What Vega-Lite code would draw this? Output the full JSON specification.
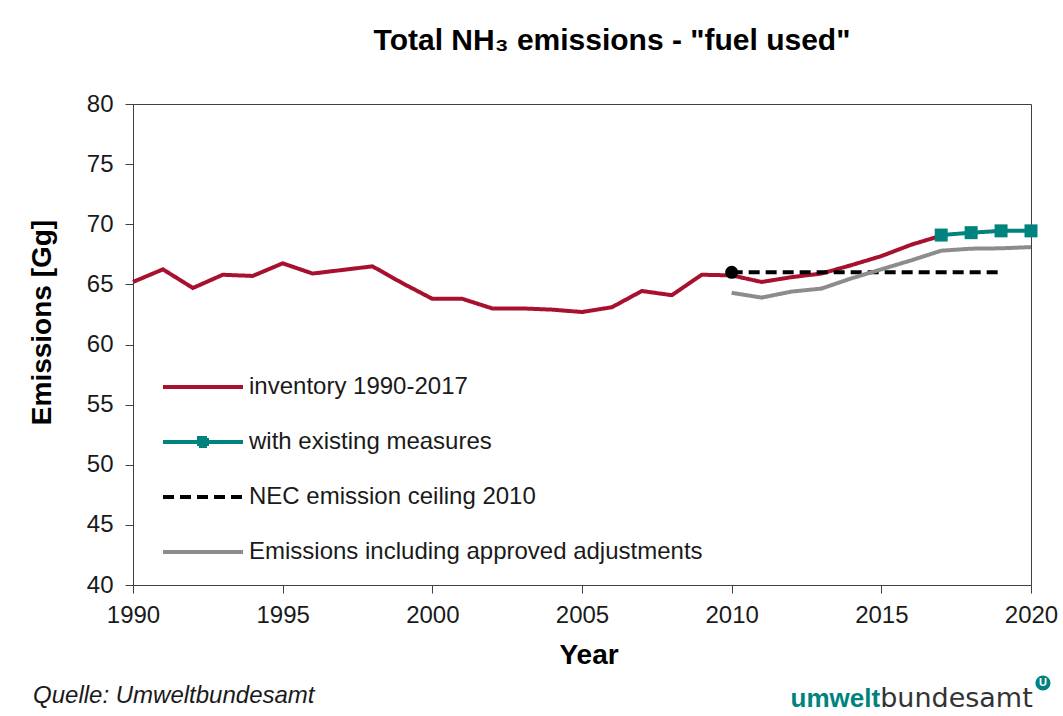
{
  "$schema": "https://vega.github.io/schema/vega-lite/v6.json",
  "width": 898,
  "height": 481,
  "autosize": {"type": "none"},
  "padding": {"left": 133, "top": 104, "right": 32, "bottom": 131},
  "background": "white",
  "title": {
    "text": "Total NH₃ emissions - \"fuel used\"",
    "font": "Liberation Sans",
    "fontSize": 30,
    "fontWeight": "bold",
    "color": "#000000",
    "anchor": "middle",
    "frame": "group",
    "dx": 30,
    "offset": 36
  },
  "datasets": {
    "main": [
      {"year": 1990, "value": 65.2, "series": "inventory 1990-2017"},
      {"year": 1991, "value": 66.25, "series": "inventory 1990-2017"},
      {"year": 1992, "value": 64.7, "series": "inventory 1990-2017"},
      {"year": 1993, "value": 65.8, "series": "inventory 1990-2017"},
      {"year": 1994, "value": 65.7, "series": "inventory 1990-2017"},
      {"year": 1995, "value": 66.75, "series": "inventory 1990-2017"},
      {"year": 1996, "value": 65.9, "series": "inventory 1990-2017"},
      {"year": 1997, "value": 66.2, "series": "inventory 1990-2017"},
      {"year": 1998, "value": 66.5, "series": "inventory 1990-2017"},
      {"year": 1999, "value": 65.1, "series": "inventory 1990-2017"},
      {"year": 2000, "value": 63.8, "series": "inventory 1990-2017"},
      {"year": 2001, "value": 63.8, "series": "inventory 1990-2017"},
      {"year": 2002, "value": 63.0, "series": "inventory 1990-2017"},
      {"year": 2003, "value": 63.0, "series": "inventory 1990-2017"},
      {"year": 2004, "value": 62.9, "series": "inventory 1990-2017"},
      {"year": 2005, "value": 62.7, "series": "inventory 1990-2017"},
      {"year": 2006, "value": 63.1, "series": "inventory 1990-2017"},
      {"year": 2007, "value": 64.45, "series": "inventory 1990-2017"},
      {"year": 2008, "value": 64.1, "series": "inventory 1990-2017"},
      {"year": 2009, "value": 65.8, "series": "inventory 1990-2017"},
      {"year": 2010, "value": 65.75, "series": "inventory 1990-2017"},
      {"year": 2011, "value": 65.2, "series": "inventory 1990-2017"},
      {"year": 2012, "value": 65.6, "series": "inventory 1990-2017"},
      {"year": 2013, "value": 65.9, "series": "inventory 1990-2017"},
      {"year": 2014, "value": 66.6, "series": "inventory 1990-2017"},
      {"year": 2015, "value": 67.35, "series": "inventory 1990-2017"},
      {"year": 2016, "value": 68.3, "series": "inventory 1990-2017"},
      {"year": 2017, "value": 69.05, "series": "inventory 1990-2017"},
      {"year": 2017, "value": 69.1, "series": "with existing measures"},
      {"year": 2018, "value": 69.3, "series": "with existing measures"},
      {"year": 2019, "value": 69.45, "series": "with existing measures"},
      {"year": 2020, "value": 69.45, "series": "with existing measures"},
      {"year": 2010, "value": 66.0, "series": "NEC emission ceiling 2010"},
      {"year": 2019, "value": 66.0, "series": "NEC emission ceiling 2010"},
      {"year": 2010, "value": 64.3, "series": "Emissions including approved adjustments"},
      {"year": 2011, "value": 63.9, "series": "Emissions including approved adjustments"},
      {"year": 2012, "value": 64.4, "series": "Emissions including approved adjustments"},
      {"year": 2013, "value": 64.65, "series": "Emissions including approved adjustments"},
      {"year": 2014, "value": 65.5, "series": "Emissions including approved adjustments"},
      {"year": 2015, "value": 66.25, "series": "Emissions including approved adjustments"},
      {"year": 2016, "value": 67.0, "series": "Emissions including approved adjustments"},
      {"year": 2017, "value": 67.8, "series": "Emissions including approved adjustments"},
      {"year": 2018, "value": 67.97, "series": "Emissions including approved adjustments"},
      {"year": 2019, "value": 68.0, "series": "Emissions including approved adjustments"},
      {"year": 2020, "value": 68.1, "series": "Emissions including approved adjustments"}
    ]
  },
  "layer": [
    {
      "data": {"name": "main"},
      "mark": {"type": "line", "strokeWidth": 4},
      "encoding": {
        "x": {
          "field": "year",
          "type": "quantitative",
          "scale": {"domain": [1990, 2020], "nice": false, "zero": false},
          "axis": {
            "values": [1990, 1995, 2000, 2005, 2010, 2015, 2020],
            "format": "d",
            "title": "Year",
            "titleFontSize": 28,
            "titleFontWeight": "bold",
            "titleX": 455.5,
            "titleY": 70,
            "titleBaseline": "middle",
            "labelPadding": 10,
            "tickSize": 8,
            "labelFlush": false,
            "labelOverlap": false
          }
        },
        "y": {
          "field": "value",
          "type": "quantitative",
          "scale": {"domain": [40, 80], "nice": false, "zero": false},
          "axis": {
            "values": [40, 45, 50, 55, 60, 65, 70, 75, 80],
            "title": "Emissions [Gg]",
            "titleFontSize": 28,
            "titleFontWeight": "bold",
            "titleX": -91,
            "titleY": 218,
            "titleAngle": -90,
            "titleAlign": "center",
            "titleBaseline": "middle",
            "labelPadding": 12,
            "tickSize": 8,
            "labelOverlap": false
          }
        },
        "color": {
          "field": "series",
          "type": "nominal",
          "scale": {
            "domain": ["inventory 1990-2017", "with existing measures", "NEC emission ceiling 2010", "Emissions including approved adjustments"],
            "range": ["#a8112e", "#00837e", "#000000", "#8c8c8c"]
          },
          "legend": {
            "title": null,
            "orient": "none",
            "legendX": 28,
            "legendY": 271,
            "direction": "vertical",
            "symbolType": "stroke",
            "symbolSize": 6400,
            "symbolStrokeWidth": 4,
            "labelFontSize": 24,
            "labelFont": "Liberation Sans",
            "labelColor": "#1a1a1a",
            "labelOffset": 4,
            "labelLimit": 700,
            "rowPadding": 31,
            "clipHeight": 24,
            "padding": 0,
            "encode": {
              "symbols": {
                "update": {
                  "shape": {"signal": "datum.value === 'with existing measures' ? 'M-1,0H1M-0.1,-0.1H0.1V0.1H-0.1Z' : 'stroke'"},
                  "fill": {"value": "#00837e"}
                }
              }
            }
          }
        },
        "strokeDash": {
          "field": "series",
          "type": "nominal",
          "scale": {
            "domain": ["inventory 1990-2017", "with existing measures", "NEC emission ceiling 2010", "Emissions including approved adjustments"],
            "range": [[1, 0], [1, 0], [11, 6], [1, 0]]
          },
          "legend": {
            "title": null,
            "orient": "none",
            "legendX": 28,
            "legendY": 271,
            "direction": "vertical",
            "symbolType": "stroke",
            "symbolSize": 6400,
            "symbolStrokeWidth": 4,
            "labelFontSize": 24,
            "labelFont": "Liberation Sans",
            "labelColor": "#1a1a1a",
            "labelOffset": 4,
            "labelLimit": 700,
            "rowPadding": 31,
            "clipHeight": 24,
            "padding": 0,
            "encode": {
              "symbols": {
                "update": {
                  "shape": {"signal": "datum.value === 'with existing measures' ? 'M-1,0H1M-0.1,-0.1H0.1V0.1H-0.1Z' : 'stroke'"},
                  "fill": {"value": "#00837e"}
                }
              }
            }
          }
        }
      }
    },
    {
      "data": {"name": "main"},
      "transform": [{"filter": "datum.series === 'with existing measures'"}],
      "mark": {"type": "point", "shape": "square", "filled": true, "opacity": 1, "size": 169, "color": "#00837e"},
      "encoding": {
        "x": {"field": "year", "type": "quantitative", "scale": {"domain": [1990, 2020], "nice": false, "zero": false}},
        "y": {"field": "value", "type": "quantitative", "scale": {"domain": [40, 80], "nice": false, "zero": false}}
      }
    },
    {
      "data": {"name": "main"},
      "transform": [{"filter": "datum.series === 'NEC emission ceiling 2010' && datum.year === 2010"}],
      "mark": {"type": "point", "shape": "circle", "filled": true, "opacity": 1, "size": 170, "color": "#000000"},
      "encoding": {
        "x": {"field": "year", "type": "quantitative", "scale": {"domain": [1990, 2020], "nice": false, "zero": false}},
        "y": {"field": "value", "type": "quantitative", "scale": {"domain": [40, 80], "nice": false, "zero": false}}
      }
    },
    {
      "data": {"values": [{"t": "Quelle: Umweltbundesamt"}]},
      "mark": {"type": "text", "font": "Liberation Sans", "fontStyle": "italic", "fontSize": 24, "align": "left", "baseline": "alphabetic", "color": "#1a1a1a"},
      "encoding": {
        "x": {"datum": 1986.66, "type": "quantitative", "scale": {"domain": [1990, 2020], "nice": false, "zero": false}},
        "y": {"datum": 30.19, "type": "quantitative", "scale": {"domain": [40, 80], "nice": false, "zero": false}},
        "text": {"field": "t"}
      }
    },
    {
      "data": {"values": [{"t": "umwelt"}]},
      "mark": {"type": "text", "font": "Liberation Sans", "fontWeight": "bold", "fontSize": 26, "align": "right", "baseline": "alphabetic", "color": "#00837e"},
      "encoding": {
        "x": {"datum": 2014.96, "type": "quantitative", "scale": {"domain": [1990, 2020], "nice": false, "zero": false}},
        "y": {"datum": 29.85, "type": "quantitative", "scale": {"domain": [40, 80], "nice": false, "zero": false}},
        "text": {"field": "t"}
      }
    },
    {
      "data": {"values": [{"t": "bundesamt"}]},
      "mark": {"type": "text", "font": "DejaVu Sans", "fontSize": 27, "align": "left", "baseline": "alphabetic", "color": "#333333"},
      "encoding": {
        "x": {"datum": 2014.96, "type": "quantitative", "scale": {"domain": [1990, 2020], "nice": false, "zero": false}},
        "y": {"datum": 29.85, "type": "quantitative", "scale": {"domain": [40, 80], "nice": false, "zero": false}},
        "text": {"field": "t"}
      }
    },
    {
      "data": {"values": [{"t": "U"}]},
      "mark": {"type": "point", "shape": "circle", "filled": true, "opacity": 1, "size": 230, "color": "#00837e"},
      "encoding": {
        "x": {"datum": 2020.4, "type": "quantitative", "scale": {"domain": [1990, 2020], "nice": false, "zero": false}},
        "y": {"datum": 31.85, "type": "quantitative", "scale": {"domain": [40, 80], "nice": false, "zero": false}}
      }
    },
    {
      "data": {"values": [{"t": "U"}]},
      "mark": {"type": "text", "font": "Liberation Sans", "fontWeight": "bold", "fontSize": 11, "align": "center", "baseline": "middle", "color": "#ffffff"},
      "encoding": {
        "x": {"datum": 2020.4, "type": "quantitative", "scale": {"domain": [1990, 2020], "nice": false, "zero": false}},
        "y": {"datum": 31.85, "type": "quantitative", "scale": {"domain": [40, 80], "nice": false, "zero": false}},
        "text": {"field": "t"}
      }
    }
  ],
  "config": {
    "font": "Liberation Sans",
    "view": {"stroke": "#404040", "strokeWidth": 1},
    "axis": {
      "grid": false,
      "domainColor": "#404040",
      "tickColor": "#404040",
      "labelColor": "#1a1a1a",
      "labelFont": "Liberation Sans",
      "labelFontSize": 24,
      "titleFont": "Liberation Sans",
      "titleColor": "#000000"
    }
  }
}
